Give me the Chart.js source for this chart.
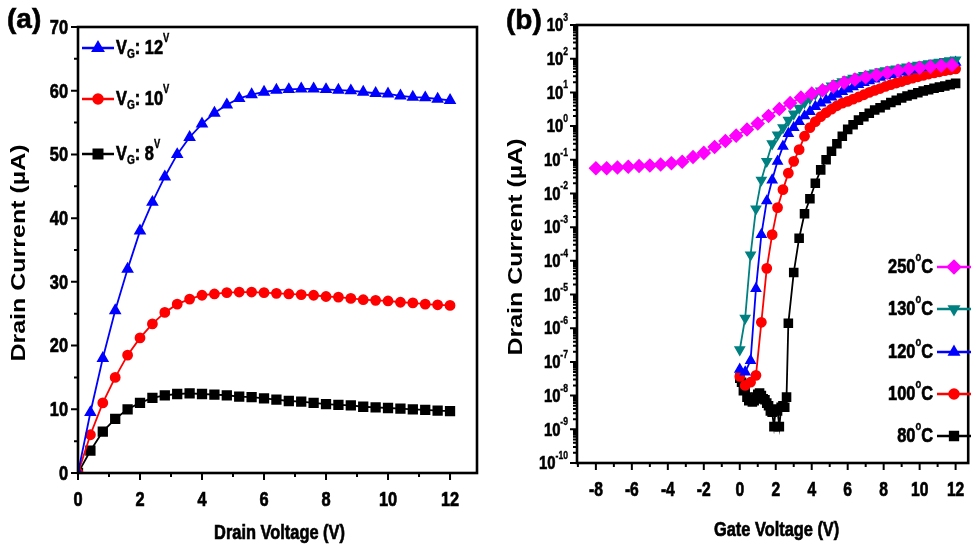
<!DOCTYPE html>
<html>
<head>
<meta charset="utf-8">
<script src="https://cdn.jsdelivr.net/npm/chart.js@4/dist/chart.umd.min.js"></script>
<style>
body{margin:0;background:#fff;width:976px;height:549px;overflow:hidden;position:relative;font-family:"Liberation Sans",Arial,sans-serif}
.box{position:absolute;top:0;height:549px}
#wa{left:0;width:490px}
#wb{left:490px;width:486px}
.tag{position:absolute;font-weight:bold;font-size:28px;color:#000;-webkit-text-stroke:0.6px #000}
</style>
</head>
<body>
<div class="box" id="wa"><canvas id="ca"></canvas></div>
<div class="box" id="wb"><canvas id="cb"></canvas></div>
<div class="tag" style="left:7px;top:3px">(a)</div>
<div class="tag" style="left:506px;top:4px">(b)</div>
<script>
// ---- panel (a): output curves ----
let drainV = [0,0.4,0.8,1.2,1.6,2.0,2.4,2.8,3.2,3.6,4.0,4.4,4.8,5.2,5.6,6.0,6.4,6.8,7.2,7.6,8.0,8.4,8.8,9.2,9.6,10.0,10.4,10.8,11.2,11.6,12.0];
let idVg12 = [0,9.5,18,25.5,32,38,42.5,46.5,50,52.7,54.8,56.5,57.8,58.8,59.4,59.8,60.1,60.2,60.3,60.3,60.2,60.1,60.0,59.8,59.6,59.5,59.2,59.0,58.9,58.7,58.5];
let idVg10 = [0,6,11,15,18.5,21.2,23.4,25.2,26.5,27.3,27.9,28.1,28.3,28.4,28.4,28.3,28.2,28.1,28.0,27.9,27.7,27.6,27.4,27.2,27.1,27.0,26.8,26.7,26.5,26.4,26.3];
let idVg8 = [0,3.5,6.5,8.5,10,11,11.8,12.2,12.4,12.5,12.4,12.3,12.2,12.0,11.9,11.7,11.5,11.3,11.2,11.0,10.8,10.7,10.6,10.4,10.3,10.2,10.1,10.0,9.9,9.8,9.7];
let aXTicks = [0,2,4,6,8,10,12];
let aYTicks = [0,10,20,30,40,50,60,70];

// ---- panel (b): transfer curves ----
let gateV250 = [-8,-7.4,-6.8,-6.2,-5.6,-5,-4.4,-3.8,-3.2,-2.6,-2,-1.4,-0.8,-0.2,0.4,1,1.6,2.2,2.8,3.4,4,4.6,5.2,5.8,6.4,7,7.6,8.2,8.8,9.4,10,10.6,11.2,11.8];
let id250 = [0.056,0.056,0.059,0.062,0.065,0.068,0.072,0.079,0.087,0.12,0.16,0.24,0.36,0.52,0.79,1.2,2.0,3.2,4.8,7.0,9.2,11.5,15,19.5,24,28,33,38,44,50,54,58,62,65];
let gateVon = [0,0.3,0.6,0.9,1.2,1.5,1.8,2.1,2.4,2.7,3.0,3.3,3.6,3.9,4.2,4.5,4.8,5.1,5.4,5.7,6.0,6.3,6.6,6.9,7.2,7.5,7.8,8.1,8.4,8.7,9.0,9.3,9.6,9.9,10.2,10.5,10.8,11.1,11.4,11.7,12.0];
let id130 = [2.3e-7,2e-6,1.5e-4,3.5e-3,0.025,0.09,0.3,0.55,0.9,1.5,2.3,3.4,5,6.6,9,11,13,15.5,18.5,21,24,26.5,29,32,35,38,41,44,47,50,53,57,60,64,67,71,75,79,83,88,92];
let id120 = [6e-8,5e-8,1.1e-7,1.5e-5,6e-4,6e-3,0.025,0.09,0.25,0.6,0.9,1.35,2,2.7,3.8,4.8,5.9,7.3,8.8,10.5,12.5,14.5,17,19.5,22,25,28,31,34,37,40,43,47,50,54,58,62,66,70,74,78];
let id100 = [3.7e-8,2e-8,2.5e-8,4e-8,1.5e-6,6e-5,6e-4,3.8e-3,0.013,0.04,0.09,0.2,0.5,0.9,1.35,1.9,2.5,3.2,4,4.8,5.4,6.3,7.3,8.5,10,11.5,13,15,17,19,21,24,26.5,29,32,35,38,41,44,47,50];
let gateV80 = [0,0.1,0.2,0.3,0.4,0.5,0.6,0.7,0.8,0.9,1.0,1.1,1.2,1.3,1.4,1.5,1.6,1.7,1.8,1.9,2.0,2.1,2.2,2.3,2.4,2.5,2.6,2.7,3.0,3.3,3.6,3.9,4.2,4.5,4.8,5.1,5.4,5.7,6.0,6.3,6.6,6.9,7.2,7.5,7.8,8.1,8.4,8.7,9.0,9.3,9.6,9.9,10.2,10.5,10.8,11.1,11.4,11.7,12.0];
let id80 = [3.3e-8,2.5e-8,1.4e-8,1.6e-8,9e-9,7e-9,7.5e-9,6.5e-9,7e-9,9e-9,1.1e-8,1.2e-8,1.0e-8,8e-9,7.5e-9,6e-9,5e-9,3.5e-9,3.2e-9,1.2e-9,4e-9,3.5e-9,1.2e-9,4.5e-9,5e-9,4.5e-9,9e-9,1.4e-6,4.5e-5,4.7e-4,2.5e-3,7e-3,0.02,0.05,0.1,0.18,0.3,0.5,0.8,1.1,1.5,1.9,2.4,3.0,3.5,4.2,5.0,5.8,6.8,7.8,8.7,9.8,11,12,13.2,14.3,15.5,17,18.5];
let bXTicks = [-8,-6,-4,-2,0,2,4,6,8,10,12];
let bYTicks = [1e-10,1e-9,1e-8,1e-7,1e-6,1e-5,1e-4,1e-3,1e-2,1e-1,1,10,100,1000];
let bYExp = ['-10','-9','-8','-7','-6','-5','-4','-3','-2','-1','0','1','2','3'];

let FONT = "'Liberation Sans',Arial,sans-serif";
let C = 0.78; // the figure's lettering is squeezed horizontally

function pts(xs, ys) {
  return xs.map(function (v, i) { return {x: v, y: ys[i]}; });
}

function cText(ctx, str, x, y, size, align) {
  ctx.save();
  ctx.font = 'bold ' + size + 'px ' + FONT;
  ctx.translate(x, y);
  ctx.scale(C, 1);
  ctx.textAlign = align;
  ctx.textBaseline = 'middle';
  ctx.fillText(str, 0, 0);
  ctx.strokeStyle = ctx.fillStyle;
  ctx.lineWidth = size > 14 ? 0.7 : 0.4;
  ctx.strokeText(str, 0, 0);
  ctx.restore();
}
function cWidth(ctx, str, size) {
  ctx.font = 'bold ' + size + 'px ' + FONT;
  return ctx.measureText(str).width * C;
}

// frame box + major/minor tick marks
let axisFrame = {
  id: 'axisFrame',
  afterDatasetsDraw(chart, args, o) {
    let ctx = chart.ctx, a = chart.chartArea, x = chart.scales.x, y = chart.scales.y;
    ctx.save();
    ctx.strokeStyle = '#000';
    ctx.lineWidth = 2.6;
    ctx.strokeRect(a.left, a.top, a.right - a.left, a.bottom - a.top);
    ctx.lineWidth = 2;
    ctx.beginPath();
    o.xMajor.forEach(function (v) { let p = x.getPixelForValue(v); ctx.moveTo(p, a.bottom); ctx.lineTo(p, a.bottom + 7); });
    o.xMinor.forEach(function (v) { let p = x.getPixelForValue(v); ctx.moveTo(p, a.bottom); ctx.lineTo(p, a.bottom + 4); });
    o.yMajor.forEach(function (v) { let p = y.getPixelForValue(v); ctx.moveTo(a.left, p); ctx.lineTo(a.left - 7, p); });
    o.yMinor.forEach(function (v) { let p = y.getPixelForValue(v); ctx.moveTo(a.left, p); ctx.lineTo(a.left - 4, p); });
    ctx.stroke();
    ctx.restore();
  }
};

// tick labels and axis titles
let axisText = {
  id: 'axisText',
  afterDraw(chart, args, o) {
    let ctx = chart.ctx, a = chart.chartArea, x = chart.scales.x, y = chart.scales.y;
    ctx.save();
    ctx.fillStyle = '#000';
    o.xTicks.forEach(function (v) {
      cText(ctx, String(v), x.getPixelForValue(v), a.bottom + o.xLabelGap, o.xSize, 'center');
    });
    if (o.logY) {
      bYTicks.forEach(function (v, i) {
        let p = y.getPixelForValue(v);
        let xr = a.left - 9;
        let ew = cWidth(ctx, bYExp[i], 11);
        cText(ctx, bYExp[i], xr - ew, p - 7, 11, 'left');
        cText(ctx, '10', xr - ew, p + 1, 19, 'right');
      });
    } else {
      o.yTicks.forEach(function (v) {
        cText(ctx, String(v), a.left - 10, y.getPixelForValue(v) + 1, 21, 'right');
      });
    }
    cText(ctx, o.xTitle, (a.left + a.right) / 2 + o.xTitleShift, o.xTitleY, 21, 'center');
    // y title, rotated
    ctx.save();
    ctx.font = 'bold 25px ' + FONT;
    ctx.translate(o.yTitleX, (a.top + a.bottom) / 2 + 3);
    ctx.rotate(-Math.PI / 2);
    ctx.scale(1, C);
    ctx.textAlign = 'center';
    ctx.textBaseline = 'middle';
    ctx.fillText(o.yTitle, 0, 0);
    ctx.restore();
    ctx.restore();
  }
};

// legend with sub/superscripts
function drawParts(ctx, parts, x, y, alignRight) {
  let w = 0;
  parts.forEach(function (p) { w += cWidth(ctx, p.t, p.size); });
  let cx = alignRight ? x - w : x;
  parts.forEach(function (p) {
    cText(ctx, p.t, cx, y + (p.dy || 0), p.size, 'left');
    cx += cWidth(ctx, p.t, p.size);
  });
}
let legendBox = {
  id: 'legendBox',
  afterDraw(chart, args, o) {
    let ctx = chart.ctx;
    ctx.save();
    o.items.forEach(function (it) {
      let ds = chart.data.datasets[it.ds];
      ctx.strokeStyle = ds.borderColor;
      ctx.lineWidth = 2.5;
      ctx.beginPath();
      ctx.moveTo(it.x0, it.y);
      ctx.lineTo(it.x1, it.y);
      ctx.stroke();
      ctx.fillStyle = ds.borderColor;
      Chart.helpers.drawPoint(ctx, {pointStyle: ds.pointStyle, radius: ds.pointRadius, rotation: ds.pointRotation || 0, borderWidth: 1}, (it.x0 + it.x1) / 2, it.y);
      ctx.fillStyle = '#000';
      drawParts(ctx, it.parts, it.tx, it.y, it.right);
    });
    ctx.restore();
  }
};

let lineDs = function (label, data, color, style, r, rot) {
  return {label: label, data: data, borderColor: color, backgroundColor: color, pointBackgroundColor: color,
    pointBorderColor: color, pointStyle: style, pointRadius: r, pointRotation: rot || 0, borderWidth: 1.8, tension: 0};
};

let hiddenGrid = {display: false, drawTicks: false};

let aXMinor = [1,3,5,7,9,11];
let aYMinor = [5,15,25,35,45,55,65];

new Chart(document.getElementById('ca'), {
  type: 'line',
  data: {
    datasets: [
      lineDs('VG: 12V', pts(drainV, idVg12), '#0000ff', 'triangle', 5.5),
      lineDs('VG: 10V', pts(drainV, idVg10), '#ff0000', 'circle', 4.5),
      lineDs('VG: 8V', pts(drainV, idVg8), '#000000', 'rect', 6)
    ]
  },
  options: {
    responsive: true, maintainAspectRatio: false, animation: false,
    layout: {padding: {top: 27, right: 13, left: 0, bottom: 0}},
    scales: {
      x: {
        type: 'linear', min: 0, max: 12.87,
        afterBuildTicks: function (s) { s.ticks = aXTicks.map(function (v) { return {value: v}; }); },
        afterFit: function (s) { s.height = 76; },
        grid: hiddenGrid, border: {display: false}, ticks: {display: false}
      },
      y: {
        type: 'linear', min: 0, max: 70,
        afterBuildTicks: function (s) { s.ticks = aYTicks.map(function (v) { return {value: v}; }); },
        afterFit: function (s) { s.width = 78; },
        grid: hiddenGrid, border: {display: false}, ticks: {display: false}
      }
    },
    plugins: {
      legend: {display: false}, tooltip: {enabled: false},
      axisFrame: {xMajor: aXTicks, xMinor: aXMinor, yMajor: aYTicks, yMinor: aYMinor},
      axisText: {xTicks: aXTicks, yTicks: aYTicks, logY: false, xSize: 21, xLabelGap: 27,
        xTitle: 'Drain Voltage (V)', xTitleY: 533, xTitleShift: 2, yTitle: 'Drain Current (\u00b5A)', yTitleX: 20},
      legendBox: {items: [
        {ds: 0, x0: 82, x1: 114, y: 48, tx: 116, right: false, parts: [{t: 'V', size: 21}, {t: 'G', size: 13, dy: 6}, {t: ': 12', size: 21}, {t: 'V', size: 12, dy: -9}]},
        {ds: 1, x0: 82, x1: 114, y: 99, tx: 116, right: false, parts: [{t: 'V', size: 21}, {t: 'G', size: 13, dy: 6}, {t: ': 10', size: 21}, {t: 'V', size: 12, dy: -9}]},
        {ds: 2, x0: 82, x1: 114, y: 154, tx: 116, right: false, parts: [{t: 'V', size: 21}, {t: 'G', size: 13, dy: 6}, {t: ': 8', size: 21}, {t: 'V', size: 12, dy: -9}]}
      ]}
    }
  },
  plugins: [axisFrame, axisText, legendBox]
});

let bXMinor = [-9,-7,-5,-3,-1,1,3,5,7,9,11];
let bYMinor = [];
for (let e = -10; e < 3; e++) {
  for (let k = 2; k <= 9; k++) bYMinor.push(k * Math.pow(10, e));
}

new Chart(document.getElementById('cb'), {
  type: 'line',
  data: {
    datasets: [
      lineDs('250\u00b0C', pts(gateV250, id250), '#ff00ff', 'rectRot', 6),
      lineDs('130\u00b0C', pts(gateVon, id130), '#008080', 'triangle', 5, 180),
      lineDs('120\u00b0C', pts(gateVon, id120), '#0000ff', 'triangle', 5),
      lineDs('100\u00b0C', pts(gateVon, id100), '#ff0000', 'circle', 4.5),
      lineDs('80\u00b0C', pts(gateV80, id80), '#000000', 'rect', 5.5)
    ]
  },
  options: {
    responsive: true, maintainAspectRatio: false, animation: false,
    layout: {padding: {top: 25, right: 1, left: 0, bottom: 0}},
    scales: {
      x: {
        type: 'linear', min: -9.05, max: 12.7,
        afterBuildTicks: function (s) { s.ticks = bXTicks.map(function (v) { return {value: v}; }); },
        afterFit: function (s) { s.height = 86; },
        grid: hiddenGrid, border: {display: false}, ticks: {display: false}
      },
      y: {
        type: 'logarithmic', min: 1e-10, max: 1e3,
        afterBuildTicks: function (s) { s.ticks = bYTicks.map(function (v) { return {value: v}; }); },
        afterFit: function (s) { s.width = 87; },
        grid: hiddenGrid, border: {display: false}, ticks: {display: false}
      }
    },
    plugins: {
      legend: {display: false}, tooltip: {enabled: false},
      axisFrame: {xMajor: bXTicks, xMinor: bXMinor, yMajor: bYTicks, yMinor: bYMinor},
      axisText: {xTicks: bXTicks, logY: true, xSize: 20, xLabelGap: 27,
        xTitle: 'Gate Voltage (V)', xTitleY: 530, xTitleShift: 4, yTitle: 'Drain Current (\u00b5A)', yTitleX: 27},
      legendBox: {items: [
        {ds: 0, x0: 447, x1: 481, y: 267, tx: 443, right: true, parts: [{t: '250', size: 21}, {t: 'o', size: 12, dy: -9}, {t: 'C', size: 21}]},
        {ds: 1, x0: 447, x1: 481, y: 309, tx: 443, right: true, parts: [{t: '130', size: 21}, {t: 'o', size: 12, dy: -9}, {t: 'C', size: 21}]},
        {ds: 2, x0: 447, x1: 481, y: 352, tx: 443, right: true, parts: [{t: '120', size: 21}, {t: 'o', size: 12, dy: -9}, {t: 'C', size: 21}]},
        {ds: 3, x0: 447, x1: 481, y: 394, tx: 443, right: true, parts: [{t: '100', size: 21}, {t: 'o', size: 12, dy: -9}, {t: 'C', size: 21}]},
        {ds: 4, x0: 447, x1: 481, y: 436, tx: 443, right: true, parts: [{t: '80', size: 21}, {t: 'o', size: 12, dy: -9}, {t: 'C', size: 21}]}
      ]}
    }
  },
  plugins: [axisFrame, axisText, legendBox]
});
</script>
</body>
</html>
